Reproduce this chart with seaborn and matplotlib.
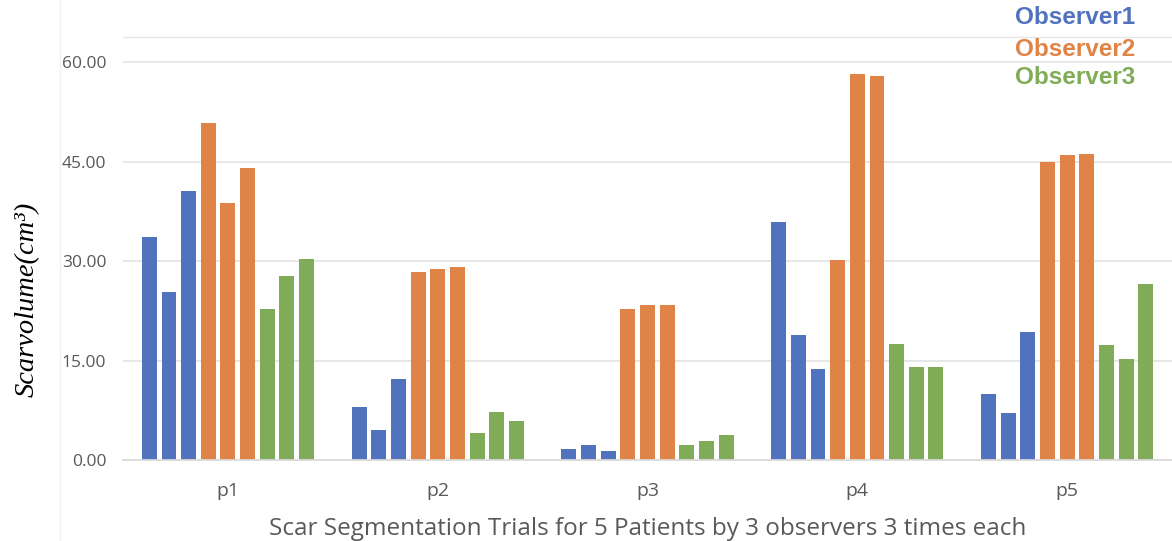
import matplotlib
matplotlib.use("Agg")
import matplotlib.pyplot as plt
from matplotlib.lines import Line2D
import numpy as np
import pandas as pd
import seaborn as sns

patients = ["p1", "p2", "p3", "p4", "p5"]
observers = ["Observer1", "Observer2", "Observer3"]

# Scar volume (cm^3) per patient, three trials per observer
observer1 = [[33.6, 25.4, 40.5], [8.0, 4.6, 12.2], [1.6, 2.2, 1.4], [35.9, 18.8, 13.8], [9.9, 7.1, 19.3]]
observer2 = [[50.9, 38.8, 44.1], [28.4, 28.8, 29.1], [22.8, 23.4, 23.4], [30.1, 58.2, 57.9], [45.0, 46.0, 46.2]]
observer3 = [[22.8, 27.7, 30.3], [4.1, 7.3, 5.9], [2.2, 2.9, 3.7], [17.5, 14.0, 14.0], [17.4, 15.2, 26.6]]

colors = ["#5173BE", "#E08346", "#80AC57"]
yticks = [0, 15, 30, 45, 60]

rows = []
for obs, vals in zip(observers, [observer1, observer2, observer3]):
    for p, trials in zip(patients, vals):
        for t, v in enumerate(trials, start=1):
            rows.append({"patient": p, "series": f"{obs}-T{t}", "volume": v})
df = pd.DataFrame(rows)
series_order = [f"{o}-T{t}" for o in observers for t in (1, 2, 3)]
palette = {s: colors[i // 3] for i, s in enumerate(series_order)}

sns.set_theme(style="white")
plt.rcParams["font.family"] = ["Open Sans", "DejaVu Sans"]

fig = plt.figure(figsize=(11.72, 5.41), dpi=100)
ax = fig.add_axes([0.105, 0.1497, 0.895, 0.7819])

sns.barplot(data=df, x="patient", y="volume", hue="series", order=patients,
            hue_order=series_order, palette=palette, width=0.843, gap=0.24,
            saturation=1, linewidth=0, ax=ax, legend=False, errorbar=None)

ax.set_ylim(0, 63.8)
ax.set_xlim(-0.5, 4.5)
ax.set_yticks(yticks)
ax.set_yticklabels([f"{v:.2f}" for v in yticks])
ax.yaxis.grid(True, color="#E3E3E3", linewidth=1.2)
ax.set_axisbelow(True)
for side in ("left", "right"):
    ax.spines[side].set_visible(False)
ax.spines["bottom"].set_color("#DADADA")
ax.spines["bottom"].set_linewidth(1.3)
ax.spines["top"].set_color("#E6E6E6")
ax.spines["top"].set_linewidth(1.0)
ax.tick_params(axis="y", labelsize=12.5, colors="#595959", length=0, pad=12)
ax.tick_params(axis="x", labelsize=14, colors="#595959", length=0, pad=16)

ax.set_xlabel("Scar Segmentation Trials for 5 Patients by 3 observers 3 times each",
              fontsize=17.5, color="#595959", labelpad=12)
ax.set_ylabel("Scarvolume(cm³)", family="Liberation Serif", style="italic",
              fontsize=20.5, color="black")
ax.yaxis.set_label_coords(-0.079, 0.38)

# observer key, coloured text only
for name, c, ypix in zip(observers, colors, [18, 49, 78]):
    fig.text(1015 / 1172, 1 - ypix / 541, name, color=c, ha="left", va="center",
             family="Liberation Sans", weight="bold", fontsize=17.5)

# chart area border
fig.add_artist(Line2D([0.051, 0.051], [0.0, 1.0], color="#F0F0F0", linewidth=1))

fig.savefig("out.png", dpi=100, facecolor="white")
